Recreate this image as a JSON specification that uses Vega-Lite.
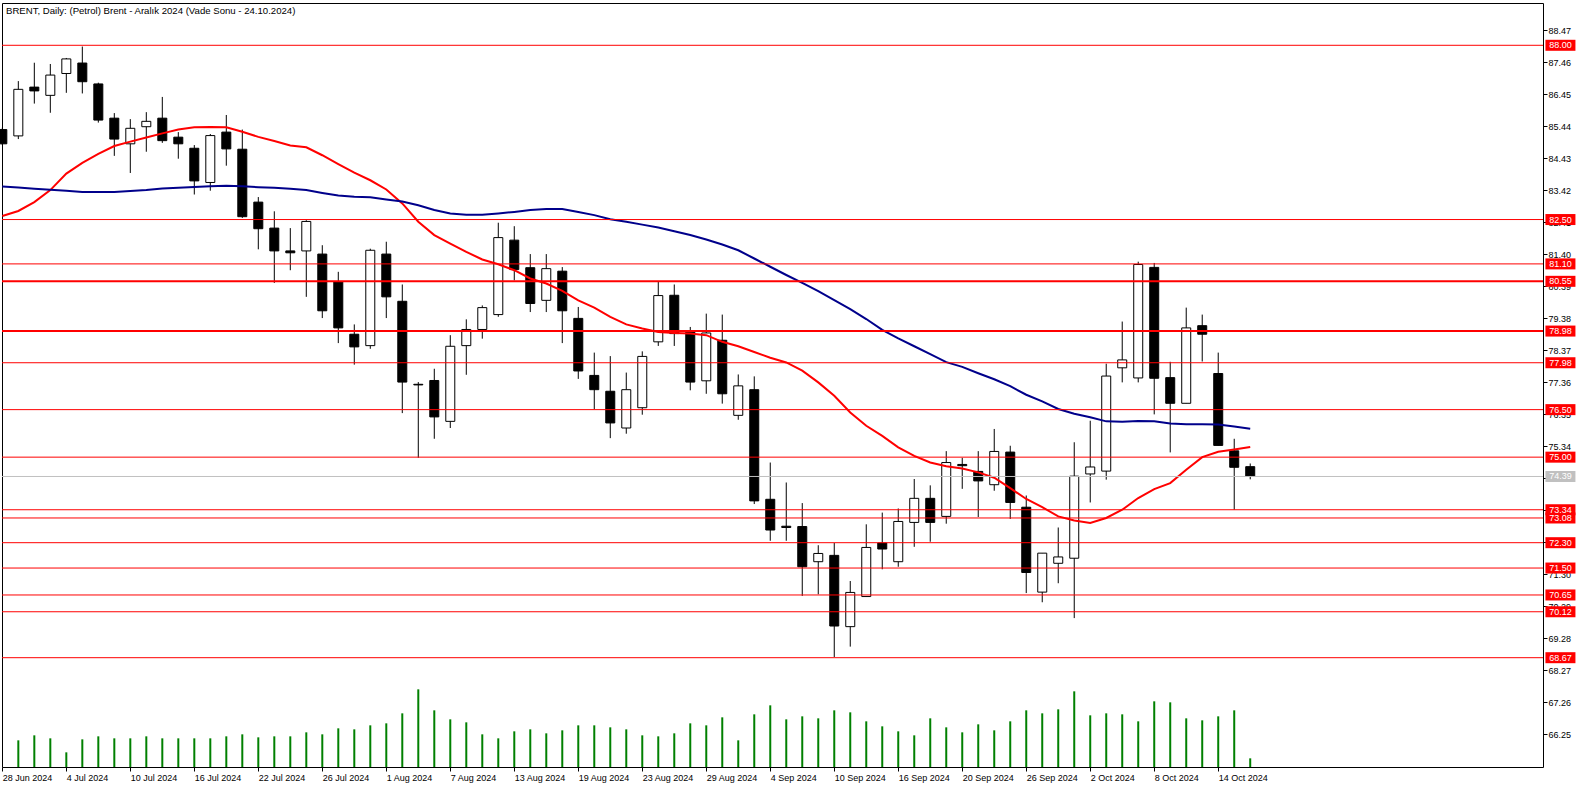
{
  "$schema": "https://vega.github.io/schema/vega-lite/v6.json",
  "autosize": {"type": "none"},
  "padding": {"left": 2, "top": 3, "right": 43, "bottom": 21},
  "width": 1541,
  "height": 764,
  "background": "white",
  "config": {
    "view": {"stroke": "black", "strokeWidth": 1},
    "axis": {"labelFont": "Liberation Sans", "labelFontSize": 9, "labelColor": "black", "tickColor": "black", "domain": false, "grid": false, "labelOverlap": false, "labelFlush": false},
    "scale": {"continuousPadding": 0},
    "text": {"font": "Liberation Sans"}
  },
  "title": {
    "text": "BRENT, Daily:  (Petrol) Brent - Aralık 2024 (Vade Sonu - 24.10.2024)",
    "anchor": "start", "frame": "group", "orient": "top", "offset": -13, "baseline": "top",
    "font": "Liberation Sans", "fontSize": 9.6, "fontWeight": "normal", "color": "black", "dx": 4
  },
  "datasets": {
    "bars": [
      {"d": "2024-06-28", "o": 85.34, "h": 85.40, "l": 84.85, "c": 84.89, "v": null, "r": 82.61, "b": 83.54},
      {"d": "2024-07-01", "o": 85.14, "h": 86.87, "l": 85.04, "c": 86.61, "v": 80, "r": 82.77, "b": 83.51},
      {"d": "2024-07-02", "o": 86.68, "h": 87.45, "l": 86.16, "c": 86.56, "v": 95, "r": 83.05, "b": 83.47},
      {"d": "2024-07-03", "o": 86.42, "h": 87.41, "l": 85.87, "c": 87.06, "v": 86, "r": 83.43, "b": 83.44},
      {"d": "2024-07-04", "o": 87.11, "h": 87.60, "l": 86.50, "c": 87.57, "v": 44, "r": 83.95, "b": 83.41},
      {"d": "2024-07-05", "o": 87.44, "h": 87.96, "l": 86.48, "c": 86.85, "v": 83, "r": 84.29, "b": 83.37},
      {"d": "2024-07-08", "o": 86.78, "h": 86.82, "l": 85.56, "c": 85.64, "v": 92, "r": 84.57, "b": 83.37},
      {"d": "2024-07-09", "o": 85.70, "h": 85.86, "l": 84.51, "c": 85.04, "v": 86, "r": 84.82, "b": 83.37},
      {"d": "2024-07-10", "o": 84.89, "h": 85.67, "l": 83.97, "c": 85.38, "v": 86, "r": 84.96, "b": 83.40},
      {"d": "2024-07-11", "o": 85.43, "h": 85.89, "l": 84.64, "c": 85.60, "v": 92, "r": 85.09, "b": 83.43},
      {"d": "2024-07-12", "o": 85.70, "h": 86.37, "l": 84.92, "c": 84.99, "v": 86, "r": 85.22, "b": 83.48},
      {"d": "2024-07-15", "o": 85.10, "h": 85.26, "l": 84.42, "c": 84.89, "v": 86, "r": 85.34, "b": 83.50},
      {"d": "2024-07-16", "o": 84.75, "h": 84.85, "l": 83.29, "c": 83.72, "v": 86, "r": 85.41, "b": 83.53},
      {"d": "2024-07-17", "o": 83.67, "h": 85.20, "l": 83.41, "c": 85.15, "v": 86, "r": 85.42, "b": 83.55},
      {"d": "2024-07-18", "o": 85.26, "h": 85.80, "l": 84.20, "c": 84.73, "v": 92, "r": 85.41, "b": 83.57},
      {"d": "2024-07-19", "o": 84.72, "h": 85.34, "l": 82.55, "c": 82.59, "v": 98, "r": 85.27, "b": 83.55},
      {"d": "2024-07-22", "o": 83.05, "h": 83.21, "l": 81.56, "c": 82.21, "v": 89, "r": 85.11, "b": 83.52},
      {"d": "2024-07-23", "o": 82.23, "h": 82.76, "l": 80.50, "c": 81.51, "v": 92, "r": 84.98, "b": 83.50},
      {"d": "2024-07-24", "o": 81.51, "h": 82.23, "l": 80.90, "c": 81.45, "v": 92, "r": 84.84, "b": 83.47},
      {"d": "2024-07-25", "o": 81.51, "h": 82.48, "l": 80.06, "c": 82.44, "v": 104, "r": 84.78, "b": 83.43},
      {"d": "2024-07-26", "o": 81.41, "h": 81.69, "l": 79.39, "c": 79.62, "v": 98, "r": 84.53, "b": 83.34},
      {"d": "2024-07-29", "o": 80.53, "h": 80.85, "l": 78.60, "c": 79.08, "v": 116, "r": 84.25, "b": 83.26},
      {"d": "2024-07-30", "o": 78.88, "h": 79.19, "l": 77.92, "c": 78.48, "v": 113, "r": 83.98, "b": 83.22},
      {"d": "2024-07-31", "o": 78.52, "h": 81.58, "l": 78.42, "c": 81.53, "v": 125, "r": 83.74, "b": 83.20},
      {"d": "2024-08-01", "o": 81.41, "h": 81.80, "l": 79.39, "c": 80.06, "v": 131, "r": 83.45, "b": 83.13},
      {"d": "2024-08-02", "o": 79.92, "h": 80.45, "l": 76.39, "c": 77.37, "v": 161, "r": 83.01, "b": 83.07},
      {"d": "2024-08-05", "o": 77.30, "h": 77.37, "l": 74.98, "c": 77.28, "v": 233, "r": 82.43, "b": 82.95},
      {"d": "2024-08-06", "o": 77.42, "h": 77.79, "l": 75.58, "c": 76.27, "v": 170, "r": 82.01, "b": 82.80},
      {"d": "2024-08-07", "o": 76.13, "h": 78.85, "l": 75.92, "c": 78.50, "v": 143, "r": 81.74, "b": 82.69},
      {"d": "2024-08-08", "o": 78.52, "h": 79.35, "l": 77.60, "c": 79.03, "v": 134, "r": 81.48, "b": 82.65},
      {"d": "2024-08-09", "o": 79.03, "h": 79.79, "l": 78.74, "c": 79.72, "v": 98, "r": 81.24, "b": 82.65},
      {"d": "2024-08-12", "o": 79.50, "h": 82.40, "l": 79.43, "c": 81.93, "v": 86, "r": 81.09, "b": 82.69},
      {"d": "2024-08-13", "o": 81.85, "h": 82.29, "l": 80.58, "c": 80.92, "v": 107, "r": 80.90, "b": 82.74},
      {"d": "2024-08-14", "o": 80.98, "h": 81.41, "l": 79.58, "c": 79.85, "v": 113, "r": 80.64, "b": 82.80},
      {"d": "2024-08-15", "o": 79.95, "h": 81.41, "l": 79.58, "c": 80.95, "v": 101, "r": 80.48, "b": 82.83},
      {"d": "2024-08-16", "o": 80.87, "h": 81.00, "l": 78.60, "c": 79.62, "v": 110, "r": 80.25, "b": 82.83},
      {"d": "2024-08-19", "o": 79.38, "h": 79.74, "l": 77.47, "c": 77.72, "v": 125, "r": 79.95, "b": 82.74},
      {"d": "2024-08-20", "o": 77.58, "h": 78.30, "l": 76.51, "c": 77.13, "v": 125, "r": 79.72, "b": 82.64},
      {"d": "2024-08-21", "o": 77.08, "h": 78.19, "l": 75.60, "c": 76.08, "v": 119, "r": 79.43, "b": 82.51},
      {"d": "2024-08-22", "o": 75.92, "h": 77.67, "l": 75.74, "c": 77.13, "v": 113, "r": 79.19, "b": 82.43},
      {"d": "2024-08-23", "o": 76.56, "h": 78.34, "l": 76.34, "c": 78.18, "v": 95, "r": 79.06, "b": 82.34},
      {"d": "2024-08-26", "o": 78.64, "h": 80.53, "l": 78.51, "c": 80.10, "v": 92, "r": 78.95, "b": 82.25},
      {"d": "2024-08-27", "o": 80.11, "h": 80.45, "l": 78.51, "c": 78.90, "v": 101, "r": 78.92, "b": 82.13},
      {"d": "2024-08-28", "o": 78.95, "h": 79.11, "l": 77.11, "c": 77.37, "v": 131, "r": 78.90, "b": 82.01},
      {"d": "2024-08-29", "o": 77.41, "h": 79.53, "l": 77.00, "c": 78.92, "v": 125, "r": 78.85, "b": 81.87},
      {"d": "2024-08-30", "o": 78.69, "h": 79.50, "l": 76.69, "c": 77.00, "v": 149, "r": 78.64, "b": 81.71},
      {"d": "2024-09-02", "o": 76.32, "h": 77.61, "l": 76.18, "c": 77.25, "v": 80, "r": 78.50, "b": 81.53},
      {"d": "2024-09-03", "o": 77.13, "h": 77.55, "l": 73.52, "c": 73.62, "v": 158, "r": 78.32, "b": 81.27},
      {"d": "2024-09-04", "o": 73.67, "h": 74.83, "l": 72.36, "c": 72.70, "v": 185, "r": 78.14, "b": 81.01},
      {"d": "2024-09-05", "o": 72.82, "h": 74.20, "l": 72.36, "c": 72.78, "v": 143, "r": 77.99, "b": 80.75},
      {"d": "2024-09-06", "o": 72.81, "h": 73.55, "l": 70.62, "c": 71.54, "v": 152, "r": 77.73, "b": 80.50},
      {"d": "2024-09-09", "o": 71.70, "h": 72.22, "l": 70.67, "c": 71.96, "v": 146, "r": 77.36, "b": 80.24},
      {"d": "2024-09-10", "o": 71.90, "h": 72.29, "l": 68.69, "c": 69.67, "v": 170, "r": 76.94, "b": 79.96},
      {"d": "2024-09-11", "o": 69.65, "h": 71.09, "l": 69.02, "c": 70.73, "v": 164, "r": 76.41, "b": 79.67},
      {"d": "2024-09-12", "o": 70.60, "h": 72.88, "l": 70.60, "c": 72.15, "v": 137, "r": 75.99, "b": 79.36},
      {"d": "2024-09-13", "o": 72.29, "h": 73.25, "l": 71.46, "c": 72.10, "v": 122, "r": 75.67, "b": 79.02},
      {"d": "2024-09-16", "o": 71.70, "h": 73.38, "l": 71.54, "c": 72.97, "v": 107, "r": 75.31, "b": 78.75},
      {"d": "2024-09-17", "o": 72.94, "h": 74.31, "l": 72.17, "c": 73.70, "v": 95, "r": 75.04, "b": 78.50},
      {"d": "2024-09-18", "o": 73.70, "h": 74.11, "l": 72.33, "c": 72.94, "v": 146, "r": 74.83, "b": 78.25},
      {"d": "2024-09-19", "o": 73.13, "h": 75.19, "l": 72.90, "c": 74.83, "v": 119, "r": 74.71, "b": 78.00},
      {"d": "2024-09-20", "o": 74.77, "h": 74.98, "l": 74.00, "c": 74.73, "v": 104, "r": 74.64, "b": 77.85},
      {"d": "2024-09-23", "o": 74.55, "h": 75.19, "l": 73.11, "c": 74.25, "v": 128, "r": 74.52, "b": 77.65},
      {"d": "2024-09-24", "o": 74.13, "h": 75.89, "l": 73.94, "c": 75.18, "v": 110, "r": 74.35, "b": 77.46},
      {"d": "2024-09-25", "o": 75.16, "h": 75.36, "l": 73.05, "c": 73.57, "v": 137, "r": 74.02, "b": 77.24},
      {"d": "2024-09-26", "o": 73.42, "h": 73.79, "l": 70.71, "c": 71.36, "v": 170, "r": 73.68, "b": 76.97},
      {"d": "2024-09-27", "o": 70.74, "h": 71.97, "l": 70.42, "c": 71.97, "v": 161, "r": 73.42, "b": 76.76},
      {"d": "2024-09-30", "o": 71.65, "h": 72.78, "l": 71.02, "c": 71.85, "v": 173, "r": 73.13, "b": 76.52},
      {"d": "2024-10-01", "o": 71.81, "h": 75.47, "l": 69.92, "c": 74.40, "v": 227, "r": 73.00, "b": 76.37},
      {"d": "2024-10-02", "o": 74.47, "h": 76.15, "l": 73.57, "c": 74.69, "v": 155, "r": 72.92, "b": 76.26},
      {"d": "2024-10-03", "o": 74.56, "h": 77.95, "l": 74.29, "c": 77.56, "v": 161, "r": 73.08, "b": 76.13},
      {"d": "2024-10-04", "o": 77.82, "h": 79.28, "l": 77.36, "c": 78.07, "v": 158, "r": 73.34, "b": 76.12},
      {"d": "2024-10-07", "o": 77.50, "h": 81.17, "l": 77.36, "c": 81.08, "v": 137, "r": 73.71, "b": 76.14},
      {"d": "2024-10-08", "o": 80.99, "h": 81.13, "l": 76.35, "c": 77.49, "v": 197, "r": 73.99, "b": 76.13},
      {"d": "2024-10-09", "o": 77.51, "h": 78.01, "l": 75.15, "c": 76.70, "v": 194, "r": 74.18, "b": 76.06},
      {"d": "2024-10-10", "o": 76.70, "h": 79.72, "l": 76.70, "c": 79.08, "v": 146, "r": 74.60, "b": 76.04},
      {"d": "2024-10-11", "o": 79.15, "h": 79.50, "l": 78.02, "c": 78.88, "v": 140, "r": 75.00, "b": 76.04},
      {"d": "2024-10-14", "o": 77.64, "h": 78.30, "l": 75.37, "c": 75.37, "v": 152, "r": 75.17, "b": 76.03},
      {"d": "2024-10-15", "o": 75.20, "h": 75.58, "l": 73.34, "c": 74.68, "v": 170, "r": 75.24, "b": 75.97},
      {"d": "2024-10-16", "o": 74.70, "h": 74.80, "l": 74.30, "c": 74.39, "v": 26, "r": 75.32, "b": 75.90}
    ],
    "levels": [
      {"lv": 88.00, "t": "88.00", "kind": "level"},
      {"lv": 82.50, "t": "82.50", "kind": "level"},
      {"lv": 81.10, "t": "81.10", "kind": "level"},
      {"lv": 80.55, "t": "80.55", "kind": "major"},
      {"lv": 78.98, "t": "78.98", "kind": "major"},
      {"lv": 77.98, "t": "77.98", "kind": "level"},
      {"lv": 76.50, "t": "76.50", "kind": "level"},
      {"lv": 75.00, "t": "75.00", "kind": "level"},
      {"lv": 74.39, "t": "74.39", "kind": "bid"},
      {"lv": 73.34, "t": "73.34", "kind": "level"},
      {"lv": 73.08, "t": "73.08", "kind": "level"},
      {"lv": 72.30, "t": "72.30", "kind": "level"},
      {"lv": 71.50, "t": "71.50", "kind": "level"},
      {"lv": 70.65, "t": "70.65", "kind": "level"},
      {"lv": 70.12, "t": "70.12", "kind": "level"},
      {"lv": 68.67, "t": "68.67", "kind": "level"}
    ]
  },
  "layer": [
    {
      "data": {"name": "bars"},
      "transform": [{"window": [{"op": "row_number", "as": "n"}]}],
      "mark": {"type": "rule", "color": "#008000", "strokeWidth": 2},
      "encoding": {
        "x": {"field": "n", "type": "quantitative", "scale": {"domain": [0.98, 97.3], "nice": false, "zero": false, "padding": 0},
              "axis": {"values": [1,5,9,13,17,21,25,29,33,37,41,45,49,53,57,61,65,69,73,77], "title": null, "tickCount": 60,
                       "labelExpr": "['28 Jun 2024','4 Jul 2024','10 Jul 2024','16 Jul 2024','22 Jul 2024','26 Jul 2024','1 Aug 2024','7 Aug 2024','13 Aug 2024','19 Aug 2024','23 Aug 2024','29 Aug 2024','4 Sep 2024','10 Sep 2024','16 Sep 2024','20 Sep 2024','26 Sep 2024','2 Oct 2024','8 Oct 2024','14 Oct 2024'][(datum.value-1)/4]",
                       "labelAlign": "left", "labelBaseline": "top", "labelPadding": 2, "tickSize": 4, "labelFlush": false, "labelOverlap": false}},
        "y": {"field": "v", "type": "quantitative", "scale": {"domain": [0, 2292], "nice": false, "zero": true, "padding": 0}, "axis": null},
        "y2": {"datum": 0}
      }
    },
    {
      "layer": [
        {
          "data": {"name": "bars"},
          "transform": [{"window": [{"op": "row_number", "as": "n"}]}],
          "layer": [
            {
              "mark": {"type": "rule", "color": "black", "strokeWidth": 1},
              "encoding": {
                "x": {"field": "n", "type": "quantitative", "scale": {"domain": [0.98, 97.3], "nice": false, "zero": false, "padding": 0}},
                "y": {"field": "l", "type": "quantitative", "scale": {"domain": [65.22, 89.335], "nice": false, "zero": false, "padding": 0},
                      "axis": {"orient": "right", "title": null, "tickCount": 60, "values": [88.47,87.46,86.45,85.44,84.43,83.42,82.41,81.40,80.39,79.38,78.37,77.36,76.35,75.34,74.33,73.32,72.31,71.30,70.29,69.28,68.27,67.26,66.25],
                               "format": ".2f", "tickSize": 4, "labelPadding": 1, "labelOverlap": false, "labelFlush": false}},
                "y2": {"field": "h"}
              }
            },
            {
              "mark": {"type": "bar", "orient": "vertical", "size": 9, "stroke": "black", "strokeWidth": 1},
              "encoding": {
                "x": {"field": "n", "type": "quantitative", "scale": {"domain": [0.98, 97.3], "nice": false, "zero": false, "padding": 0}},
                "y": {"field": "o", "type": "quantitative", "scale": {"domain": [65.22, 89.335], "nice": false, "zero": false, "padding": 0}, "title": null},
                "y2": {"field": "c"},
                "fill": {"condition": {"test": "datum.c >= datum.o", "value": "white"}, "value": "black"}
              }
            },
            {
              "mark": {"type": "line", "color": "#ff0000", "strokeWidth": 2},
              "encoding": {
                "x": {"field": "n", "type": "quantitative", "scale": {"domain": [0.98, 97.3], "nice": false, "zero": false, "padding": 0}},
                "y": {"field": "r", "type": "quantitative", "scale": {"domain": [65.22, 89.335], "nice": false, "zero": false, "padding": 0}, "title": null}
              }
            },
            {
              "mark": {"type": "line", "color": "#00008b", "strokeWidth": 2},
              "encoding": {
                "x": {"field": "n", "type": "quantitative", "scale": {"domain": [0.98, 97.3], "nice": false, "zero": false, "padding": 0}},
                "y": {"field": "b", "type": "quantitative", "scale": {"domain": [65.22, 89.335], "nice": false, "zero": false, "padding": 0}, "title": null}
              }
            }
          ]
        },
        {
          "data": {"name": "levels"},
          "layer": [
            {
              "transform": [{"filter": "datum.kind == 'level'"}],
              "mark": {"type": "rule", "color": "#ff0000", "strokeWidth": 1},
              "encoding": {"y": {"field": "lv", "type": "quantitative", "scale": {"domain": [65.22, 89.335], "nice": false, "zero": false, "padding": 0}, "title": null}}
            },
            {
              "transform": [{"filter": "datum.kind == 'major'"}],
              "mark": {"type": "rule", "color": "#ff0000", "strokeWidth": 2},
              "encoding": {"y": {"field": "lv", "type": "quantitative", "scale": {"domain": [65.22, 89.335], "nice": false, "zero": false, "padding": 0}, "title": null}}
            },
            {
              "transform": [{"filter": "datum.kind == 'bid'"}],
              "mark": {"type": "rule", "color": "#c0c0c0", "strokeWidth": 1},
              "encoding": {"y": {"field": "lv", "type": "quantitative", "scale": {"domain": [65.22, 89.335], "nice": false, "zero": false, "padding": 0}, "title": null}}
            },
            {
              "mark": {"type": "point", "filled": true, "opacity": 1, "size": 900, "shape": "M-1,-0.367H1V0.367H-1Z", "strokeWidth": 0},
              "encoding": {
                "x": {"datum": 98.39, "type": "quantitative", "scale": {"domain": [0.98, 97.3], "nice": false, "zero": false, "padding": 0}},
                "y": {"field": "lv", "type": "quantitative", "scale": {"domain": [65.22, 89.335], "nice": false, "zero": false, "padding": 0}, "title": null},
                "color": {"condition": {"test": "datum.kind == 'bid'", "value": "#c0c0c0"}, "value": "#ff0000"}
              }
            },
            {
              "mark": {"type": "text", "color": "white", "fontSize": 9, "font": "Liberation Sans", "align": "center", "baseline": "middle"},
              "encoding": {
                "x": {"datum": 98.39, "type": "quantitative", "scale": {"domain": [0.98, 97.3], "nice": false, "zero": false, "padding": 0}},
                "y": {"field": "lv", "type": "quantitative", "scale": {"domain": [65.22, 89.335], "nice": false, "zero": false, "padding": 0}, "title": null},
                "text": {"field": "t"}
              }
            }
          ]
        }
      ]
    }
  ],
  "resolve": {"scale": {"y": "independent"}, "axis": {"y": "independent"}}
}
